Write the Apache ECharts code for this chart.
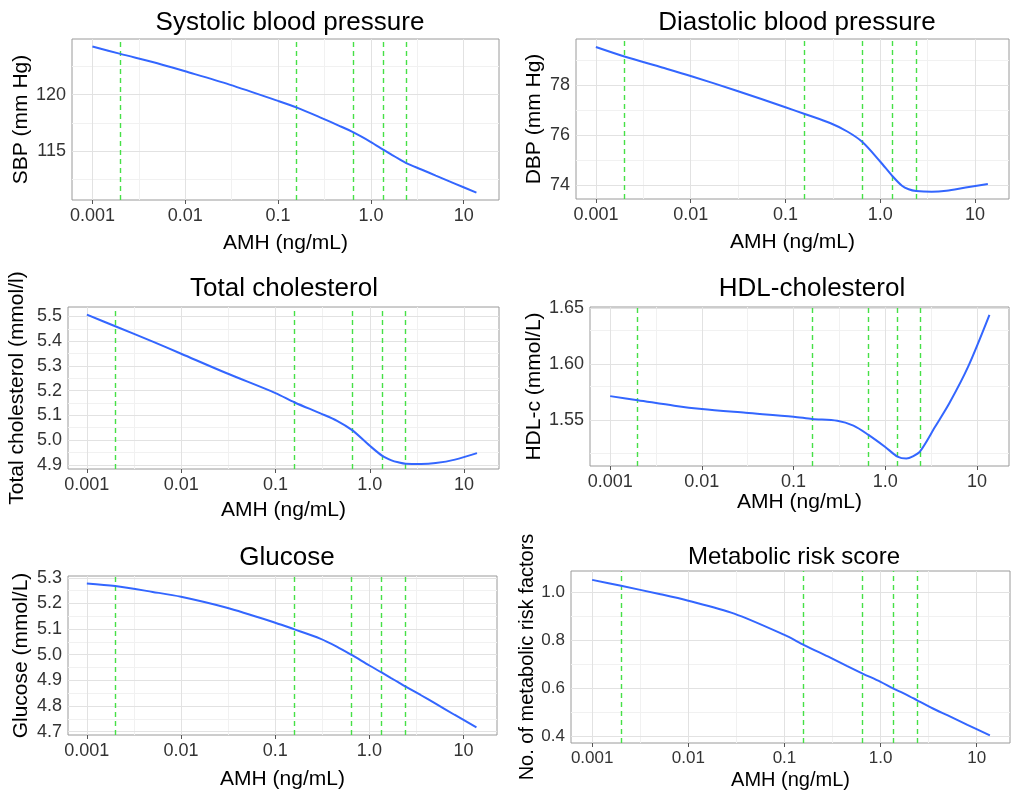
<!DOCTYPE html>
<html><head><meta charset="utf-8">
<script src="https://cdn.jsdelivr.net/npm/echarts@6/dist/echarts.min.js"></script>
<style>html,body{margin:0;padding:0;background:#fff}#c{width:1011px;height:794px}</style>
</head><body><div id="c"></div>
<script>
// ---- data ----
const amh = [0.001, 0.002, 0.005, 0.01, 0.03, 0.1, 0.16, 0.3, 0.45, 0.65, 1.0, 1.36, 1.7, 2.0, 2.4, 3.5, 5, 8, 13.7];
const sbp = [124.29, 123.63, 122.80, 122.08, 120.90, 119.45, 118.85, 117.90, 117.26, 116.65, 115.80, 115.12, 114.64, 114.30, 113.93, 113.36, 112.82, 112.11, 111.30];
const dbp = [79.53, 79.15, 78.71, 78.37, 77.79, 77.12, 76.85, 76.48, 76.15, 75.73, 74.95, 74.35, 73.98, 73.84, 73.77, 73.74, 73.78, 73.91, 74.05];
const tc  = [5.507, 5.460, 5.398, 5.349, 5.271, 5.190, 5.152, 5.108, 5.078, 5.040, 4.977, 4.936, 4.918, 4.910, 4.904, 4.903, 4.907, 4.921, 4.947];
const hdl = [1.5714, 1.5678, 1.5628, 1.5598, 1.5565, 1.5530, 1.5510, 1.5494, 1.5450, 1.5370, 1.5260, 1.5174, 1.5156, 1.5175, 1.5220, 1.5440, 1.5650, 1.5975, 1.6440];
const glu = [5.278, 5.268, 5.245, 5.226, 5.184, 5.125, 5.099, 5.063, 5.032, 4.999, 4.958, 4.930, 4.909, 4.894, 4.877, 4.843, 4.810, 4.766, 4.717];
const mrs = [1.052, 1.027, 0.993, 0.965, 0.911, 0.822, 0.780, 0.727, 0.692, 0.661, 0.626, 0.598, 0.580, 0.566, 0.549, 0.515, 0.486, 0.447, 0.403];
const cutoffs = [0.002, 0.16, 0.65, 1.36, 2.4];
const xTicks = [0.001, 0.01, 0.1, 1, 10];
const xTickLabels = ['0.001', '0.01', '0.1', '1.0', '10'];
const sbpTicks = [115, 120];
const dbpTicks = [74, 76, 78];
const tcTicks = [4.9, 5.0, 5.1, 5.2, 5.3, 5.4, 5.5];
const hdlTicks = [1.55, 1.60, 1.65];
const gluTicks = [4.7, 4.8, 4.9, 5.0, 5.1, 5.2, 5.3];
const mrsTicks = [0.4, 0.6, 0.8, 1.0];
const titles = ['Systolic blood pressure', 'Diastolic blood pressure', 'Total cholesterol', 'HDL-cholesterol', 'Glucose', 'Metabolic risk score'];
const yNames = ['SBP (mm Hg)', 'DBP (mm Hg)', 'Total cholesterol (mmol/l)', 'HDL-c (mmol/L)', 'Glucose (mmol/L)', 'No. of metabolic risk factors'];
const xName = 'AMH (ng/mL)';

// ---- layout (positions/styles only) ----
const layout = [
  {l:72,  t:39,  w:427, h:161, tx:285, ty:5,   ts:26, xmin:-3.22, xmax:1.38, ymin:110.65, ymax:124.95, dec:0, yGap:40, xGap:33, ls:18, ns:21},
  {l:576, t:39,  w:433, h:160, tx:792, ty:5,   ts:26, xmin:-3.21, xmax:1.36, ymin:73.45,  ymax:79.85,  dec:0, yGap:31, xGap:33, ls:18, ns:21},
  {l:68,  t:307, w:431, h:162, tx:279, ty:271, ts:26, xmin:-3.20, xmax:1.37, ymin:4.883,  ymax:5.538,  dec:1, yGap:40, xGap:31, ls:18, ns:21},
  {l:590, t:307, w:419, h:159, tx:807, ty:271, ts:26, xmin:-3.22, xmax:1.35, ymin:1.509,  ymax:1.651,  dec:2, yGap:38, xGap:24, ls:18, ns:21},
  {l:68,  t:576, w:429, h:159, tx:282, ty:540, ts:26, xmin:-3.20, xmax:1.355,ymin:4.687,  ymax:5.307,  dec:1, yGap:36, xGap:34, ls:18, ns:21},
  {l:571, t:571, w:439, h:172, tx:789, ty:540, ts:24, xmin:-3.22, xmax:1.346,ymin:0.371,  ymax:1.089,  dec:1, yGap:30, xGap:27, ls:17, ns:20}
];
const seriesVals = [sbp, dbp, tc, hdl, glu, mrs];
const yTickSets = [sbpTicks, dbpTicks, tcTicks, hdlTicks, gluTicks, mrsTicks];

const FONT = '"Liberation Sans", Arial, sans-serif';
const lx = v => Math.log10(v);
const xTickLog = xTicks.map(lx);

function minors(ticks, lo, hi) {
  const step = ticks[1] - ticks[0];
  const ext = [ticks[0] - step, ...ticks, ticks[ticks.length - 1] + step];
  const out = [];
  for (let i = 0; i < ext.length - 1; i++) {
    const m = (ext[i] + ext[i + 1]) / 2;
    if (m > lo && m < hi) out.push(m);
  }
  return out;
}

const option = { animation: false, backgroundColor: '#fff', title: [], grid: [], xAxis: [], yAxis: [], series: [] };

layout.forEach((L, i) => {
  const yt = yTickSets[i];
  option.title.push({
    text: titles[i], left: L.tx, top: L.ty, textAlign: 'center',
    textStyle: { fontFamily: FONT, fontSize: L.ts, fontWeight: 'normal', color: '#000' }
  });
  option.grid.push({ left: L.l, top: L.t, width: L.w, height: L.h, show: true, borderColor: '#9a9a9a', borderWidth: 1, backgroundColor: 'transparent', containLabel: false });
  option.xAxis.push({
    type: 'value', gridIndex: i, min: L.xmin, max: L.xmax,
    name: xName, nameLocation: 'middle', nameGap: L.xGap,
    nameTextStyle: { fontFamily: FONT, fontSize: L.ns, color: '#000' },
    axisLine: { show: false },
    axisTick: { show: true, length: 4, lineStyle: { color: '#555' }, customValues: xTickLog },
    axisLabel: { fontFamily: FONT, fontSize: L.ls, color: '#333', margin: 7, customValues: xTickLog,
      formatter: v => { let k = 0, d = 1e9; xTickLog.forEach((t, j) => { if (Math.abs(t - v) < d) { d = Math.abs(t - v); k = j; } }); return xTickLabels[k]; } },
    splitLine: { show: false }
  });
  option.yAxis.push({
    type: 'value', gridIndex: i, min: L.ymin, max: L.ymax,
    name: yNames[i], nameLocation: 'middle', nameGap: L.yGap, nameRotate: 90,
    nameTextStyle: { fontFamily: FONT, fontSize: L.ns, color: '#000' },
    axisLine: { show: false },
    axisTick: { show: true, length: 4, lineStyle: { color: '#555' }, customValues: yt },
    axisLabel: { fontFamily: FONT, fontSize: L.ls, color: '#333', margin: 6, customValues: yt,
      formatter: v => Number(v).toFixed(L.dec) },
    splitLine: { show: false }
  });
  const pts = amh.map((a, j) => [lx(a), seriesVals[i][j]]);
  const xMin = minors(xTickLog, L.xmin, L.xmax);
  const yMin = minors(yt, L.ymin, L.ymax);
  const minorStyle = { color: '#f1f1f1', width: 1, type: 'solid' };
  const majorStyle = { color: '#e2e2e2', width: 1, type: 'solid' };
  const gridLines = [
    ...xMin.map(v => ({ xAxis: v, lineStyle: minorStyle })),
    ...yMin.map(v => ({ yAxis: v, lineStyle: minorStyle })),
    ...xTickLog.map(v => ({ xAxis: v, lineStyle: majorStyle })),
    ...yt.map(v => ({ yAxis: v, lineStyle: majorStyle }))
  ];
  option.series.push({
    type: 'line', xAxisIndex: i, yAxisIndex: i, data: pts, showSymbol: false, silent: true, z: 1,
    lineStyle: { opacity: 0 },
    markLine: { silent: true, symbol: 'none', z: 1, animation: false, label: { show: false }, emphasis: { disabled: true }, data: gridLines }
  });
  option.series.push({
    type: 'line', xAxisIndex: i, yAxisIndex: i, data: pts, showSymbol: false, silent: true, z: 2,
    lineStyle: { opacity: 0 },
    markLine: { silent: true, symbol: 'none', z: 2, animation: false, label: { show: false }, emphasis: { disabled: true },
      data: cutoffs.map(c => ({ xAxis: lx(c), lineStyle: { color: '#46e046', width: 1.4, type: [5, 4] } })) }
  });
  option.series.push({
    type: 'line', xAxisIndex: i, yAxisIndex: i, data: pts, showSymbol: false, silent: true, z: 3,
    smooth: 0.3,
    lineStyle: { color: '#3366ff', width: 2 }
  });
});

const chart = echarts.init(document.getElementById('c'), null, { renderer: 'canvas' });
chart.setOption(option);
</script></body></html>
